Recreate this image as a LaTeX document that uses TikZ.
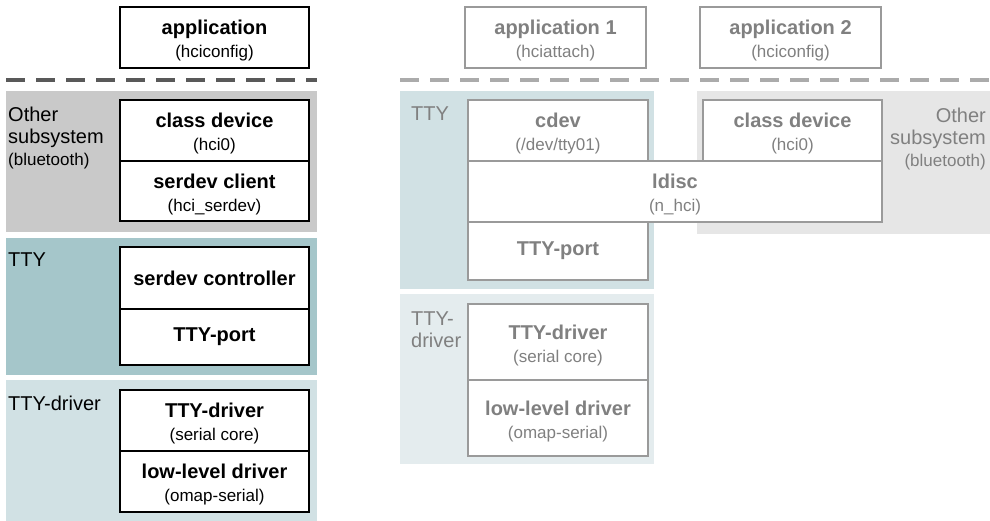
\documentclass[tikz,border=0pt]{standalone}
\usepackage{fontspec}
\setmainfont{Liberation Sans}
\usetikzlibrary{positioning}

\definecolor{osysgray}{HTML}{C9C9C9}
\definecolor{ttyteal}{HTML}{A5C6CA}
\definecolor{drvblue}{HTML}{D1E1E4}
\definecolor{osyslite}{HTML}{E6E6E6}
\definecolor{ttylite}{HTML}{D1E1E4}
\definecolor{drvlite}{HTML}{E4ECEE}
\definecolor{fadetext}{HTML}{808080}
\definecolor{fadeline}{HTML}{9A9A9A}

\newcommand{\boxtitle}[1]{{\fontsize{20}{22}\selectfont\bfseries #1}}
\newcommand{\boxsub}[1]{{\fontsize{17}{22}\selectfont #1}}
\newcommand{\boxtext}[2]{\boxtitle{\rule{0pt}{21pt}#1}\\\boxsub{#2}}

\begin{document}
\begin{tikzpicture}[x=1pt,y=-1pt]
	\useasboundingbox (0,0) rectangle (990,521);

	\begin{scope}[every node/.style={anchor=north west,inner sep=0pt,outer sep=0pt}]
		\node[fill=osysgray,minimum width=311pt,minimum height=141pt] (osysL) at (6,91) {};
		\node[fill=ttyteal,minimum width=311pt,minimum height=137pt] (ttyL) at (6,238) {};
		\node[fill=drvblue,minimum width=311pt,minimum height=141pt] (drvL) at (6,380) {};
		\node[fill=ttylite,minimum width=254pt,minimum height=198pt] (ttyR) at (400,91) {};
		\node[fill=drvlite,minimum width=254pt,minimum height=170pt] (drvR) at (400,294) {};
		\node[fill=osyslite,minimum width=293pt,minimum height=143pt] (osysR) at (697,91) {};
	\end{scope}

	\draw[line width=4pt,dash pattern=on 19pt off 11pt,black!65] (6,80) -- (317,80);
	\draw[line width=4pt,dash pattern=on 19pt off 11pt,black!33] (400,80) -- (990,80);

	\begin{scope}[every node/.style={inner sep=0pt,align=left,font=\fontsize{20}{22}\selectfont}]
		\node[anchor=north west] (osysLtxt) at (8,107) {Other\\subsystem\\\boxsub{(bluetooth)}};
		\node[anchor=north west] (ttyLtxt) at (8,253) {TTY};
		\node[anchor=north west] (drvLtxt) at (8,396) {TTY-driver};
		\node[anchor=north west,text=fadetext] (ttyRtxt) at (411,107) {TTY};
		\node[anchor=north west,text=fadetext] (drvRtxt) at (411,312) {TTY-\\driver};
		\node[anchor=north east,align=right,text=fadetext] (osysRtxt) at (986,108) {Other\\subsystem\\\boxsub{(bluetooth)}};
	\end{scope}

	\begin{scope}[every node/.style={draw,fill=white,line width=1.3pt,inner sep=0pt,outer sep=0pt,
			align=center,font=\fontsize{17}{23}\selectfont,minimum width=189pt,minimum height=61pt}]
		\node[anchor=north west] (appL) at (120,7) {\boxtext{application}{(hciconfig)}};
		\node[anchor=north west] (clsL) at (120,100) {\boxtext{class device}{(hci0)}};
		\node[below=0pt of clsL,minimum height=60pt] (cliL) {\boxtext{serdev client}{(hci\_serdev)}};
		\node[anchor=north west,minimum height=62pt] (ctlL) at (120,247) {\boxtitle{serdev controller}};
		\node[below=0pt of ctlL,minimum height=56pt] (portL) {\boxtitle{TTY-port}};
		\node[anchor=north west] (drvbL) at (120,390) {\boxtext{TTY-driver}{(serial core)}};
		\node[below=0pt of drvbL] (lowL) {\boxtext{low-level driver}{(omap-serial)}};
	\end{scope}

	\begin{scope}[every node/.style={draw=fadeline,text=fadetext,fill=white,line width=1.3pt,inner sep=0pt,outer sep=0pt,
			align=center,font=\fontsize{17}{23}\selectfont,minimum width=180pt,minimum height=61pt}]
		\node[anchor=north west,minimum width=181pt] (app1) at (465,7) {\boxtext{application 1}{(hciattach)}};
		\node[anchor=north west,minimum width=181pt] (app2) at (700,7) {\boxtext{application 2}{(hciconfig)}};
		\node[anchor=north west] (cdev) at (468,100) {\boxtext{cdev}{(/dev/tty01)}};
		\node[anchor=north west,minimum width=179pt] (clsR) at (703,100) {\boxtext{class device}{(hci0)}};
		\node[anchor=north west,minimum width=414pt] (ldisc) at (468,161) {\boxtext{ldisc}{(n\_hci)}};
		\node[anchor=north west,minimum height=58pt] (portR) at (468,222) {\boxtitle{TTY-port}};
		\node[anchor=north west,minimum height=76pt] (drvbR) at (468,304) {\boxtext{TTY-driver}{(serial core)}};
		\node[below=0pt of drvbR,minimum height=76pt] (lowR) {\boxtext{low-level driver}{(omap-serial)}};
	\end{scope}
\end{tikzpicture}
\end{document}
